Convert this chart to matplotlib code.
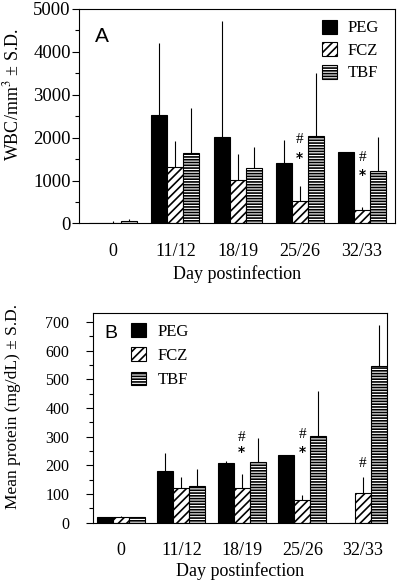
import matplotlib
matplotlib.use('Agg')
import matplotlib.pyplot as plt
import numpy as np
from matplotlib.ticker import MultipleLocator

plt.rcParams['font.family'] = ['Liberation Serif', 'DejaVu Serif']
plt.rcParams['hatch.linewidth'] = 1.2
plt.rcParams['mathtext.fontset'] = 'stix'

days = ['0', '11/12', '18/19', '25/26', '32/33']
groups = ['PEG', 'FCZ', 'TBF']

# panel A: WBC/mm3, mean and S.D.
wbc_peg = [0, 2530, 2020, 1410, 1670]
wbc_fcz = [5, 1325, 1010, 535, 305]
wbc_tbf = [55, 1635, 1300, 2030, 1230]
wbc_peg_sd = [0, 1685, 2690, 530, 0]
wbc_fcz_sd = [55, 600, 620, 345, 85]
wbc_tbf_sd = [55, 1050, 485, 1470, 790]
# significance marks (day index, y position)
wbc_hash = [(3, 1946), (4, 1534)]
wbc_star = [(3, 1527), (4, 1130)]

# panel B: protein mg/dL, mean and S.D.
prot_peg = [20, 180, 209, 235, 0]
prot_fcz = [20, 122, 122, 78, 103]
prot_tbf = [20, 128, 210, 302, 547]
prot_peg_sd = [0, 62, 6, 0, 0]
prot_fcz_sd = [3, 38, 48, 19, 57]
prot_tbf_sd = [0, 59, 84, 158, 143]
prot_hash = [(2, 297), (3, 306), (4, 207)]
prot_star = [(2, 248), (3, 248)]

styles = [dict(color='black', edgecolor='black', hatch=None),
          dict(color='white', edgecolor='black', hatch='////'),
          dict(color='white', edgecolor='black', hatch='------')]


def draw_panel(ax, means, sds, width, hashes, stars):
    x = np.arange(len(days))
    handles = []
    for i, (m, s) in enumerate(zip(means, sds)):
        pos = x + (i - 1) * width
        b = ax.bar(pos, m, width, linewidth=0.8, label=groups[i], **styles[i])
        handles.append(b)
        ax.errorbar(pos, m, yerr=[np.zeros(len(s)), s], fmt='none',
                    ecolor='black', elinewidth=0.8, capsize=0)
    for d, y in hashes:
        ax.text(x[d], y, '#', ha='center', va='center', fontsize=11)
    for d, y in stars:
        ax.text(x[d], y, '*', ha='center', va='center', fontsize=10,
                family='DejaVu Sans', weight='bold')
    ax.set_xticks(x)
    ax.set_xticklabels(days, fontsize=13)
    ax.tick_params(axis='x', length=0, pad=14)
    ax.tick_params(axis='y', which='major', direction='out', length=5, width=0.8)
    ax.tick_params(axis='y', which='minor', direction='out', length=3, width=0.8)
    for sp in ax.spines.values():
        sp.set_linewidth(0.8)
    return handles


fig = plt.figure(figsize=(4, 5.8), dpi=100)

# panel A
axA = fig.add_axes([0.1975, 0.6147, 0.79, 0.3698])
hA = draw_panel(axA, [wbc_peg, wbc_fcz, wbc_tbf],
                [wbc_peg_sd, wbc_fcz_sd, wbc_tbf_sd], 0.257, wbc_hash, wbc_star)
axA.set_xlim(-0.55, 4.53)
axA.set_ylim(0, 5000)
axA.yaxis.set_major_locator(MultipleLocator(1000))
axA.yaxis.set_minor_locator(MultipleLocator(500))
axA.tick_params(axis='y', which='major', labelsize=13.5, pad=1)
axA.set_ylabel('WBC/mm$^3$ ± S.D.', fontsize=13)
axA.yaxis.set_label_coords(-0.18, 0.6)
axA.set_xlabel('Day postinfection', fontsize=13, labelpad=4)
axA.text(0.05, 0.87, 'A', transform=axA.transAxes, fontsize=15,
         family='Liberation Sans', ha='left', va='center')
axA.legend(handles=hA, loc='upper left', bbox_to_anchor=(0.77, 0.95),
           frameon=False, fontsize=12, handlelength=0.9, handleheight=0.9,
           handletextpad=0.6, labelspacing=0.35, borderpad=0, borderaxespad=0)

# panel B
axB = fig.add_axes([0.2325, 0.0988, 0.735, 0.362])
hB = draw_panel(axB, [prot_peg, prot_fcz, prot_tbf],
                [prot_peg_sd, prot_fcz_sd, prot_tbf_sd], 0.265, prot_hash, prot_star)
axB.set_xlim(-0.46, 4.40)
axB.set_ylim(0, 732)
axB.yaxis.set_major_locator(MultipleLocator(100))
axB.yaxis.set_minor_locator(MultipleLocator(50))
axB.tick_params(axis='y', which='major', labelsize=11.5, pad=12)
axB.set_ylabel('Mean protein (mg/dL) ± S.D.', fontsize=12.5)
axB.yaxis.set_label_coords(-0.245, 0.555)
axB.set_xlabel('Day postinfection', fontsize=13, labelpad=2)
axB.text(0.04, 0.9, 'B', transform=axB.transAxes, fontsize=14,
         family='Liberation Sans', ha='left', va='center')
axB.legend(handles=hB, loc='upper left', bbox_to_anchor=(0.13, 0.95),
           frameon=False, fontsize=12, handlelength=0.9, handleheight=0.9,
           handletextpad=0.7, labelspacing=0.45, borderpad=0, borderaxespad=0)

fig.savefig('out.png', dpi=100)
